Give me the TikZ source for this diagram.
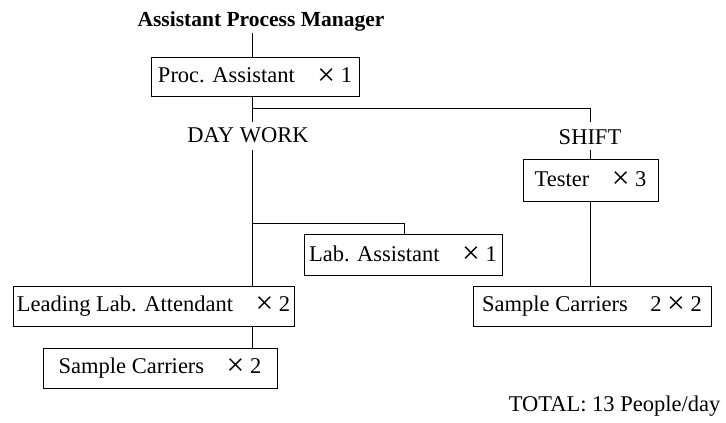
\documentclass[tikz,border=0pt]{standalone}
\usepackage{fontspec}
\usepackage{graphicx}
\setmainfont{Liberation Serif}
% a larger, thin multiplication sign for head counts
\newcommand{\crew}{\raisebox{-0.1em}{\scalebox{1.4}{×}}}
\begin{document}
\begin{tikzpicture}[x=1pt, y=-1pt,
  every node/.style={font=\fontsize{22.5}{26}\selectfont},
  post/.style={draw, line width=1pt, inner sep=0pt, anchor=center},
  link/.style={line width=1pt},
  heading/.style={inner sep=0pt, anchor=center}]
  \useasboundingbox (0,0) rectangle (726,423);

  % heading and group labels
  \node[heading, font=\bfseries\fontsize{21.5}{26}\selectfont] (title) at (261,21) {Assistant Process Manager};
  \node[heading] (day) at (248,135.5) {DAY WORK};
  \node[heading] (shift) at (590,137) {SHIFT};

  % posts
  \node[post, minimum width=208, minimum height=39] (proc) at (255,76.5) {Proc. Assistant\quad\crew{} 1};
  \node[post, minimum width=198, minimum height=41] (lab) at (403,254.5) {Lab. Assistant\quad\crew{} 1};
  \node[post, minimum width=281, minimum height=40] (lead) at (153.5,306) {Leading Lab. Attendant\quad\crew{} 2};
  \node[post, minimum width=234, minimum height=40] (sc1) at (160,368) {Sample Carriers\quad\crew{} 2};
  \node[post, minimum width=135, minimum height=42] (tester) at (590.5,180) {Tester\quad\crew{} 3};
  \node[post, minimum width=238, minimum height=40] (sc2) at (592,306) {Sample Carriers\quad 2 \crew{} 2};

  % total
  \node[heading] (total) at (614.5,406) {TOTAL: 13 People/day};

  % junction points
  \coordinate (spine) at (252,0);
  \coordinate (split) at (252,108);
  \coordinate (labsplit) at (252,223);
  \coordinate (labcorner) at (404,223);
  \coordinate (shiftx) at (590,0);

  % connectors
  \draw[link] (spine |- 0,33) -- (spine |- proc.north);
  \draw[link] (spine |- proc.south) -- (spine |- 0,122);
  \draw[link] (split) -| (shiftx |- 0,122);
  \draw[link] (spine |- 0,150) -- (spine |- lead.north);
  \draw[link] (labsplit) -| (labcorner |- lab.north);
  \draw[link] (spine |- lead.south) -- (spine |- sc1.north);
  \draw[link] (shiftx |- 0,150) -- (shiftx |- tester.north);
  \draw[link] (shiftx |- tester.south) -- (shiftx |- sc2.north);
\end{tikzpicture}
\end{document}
